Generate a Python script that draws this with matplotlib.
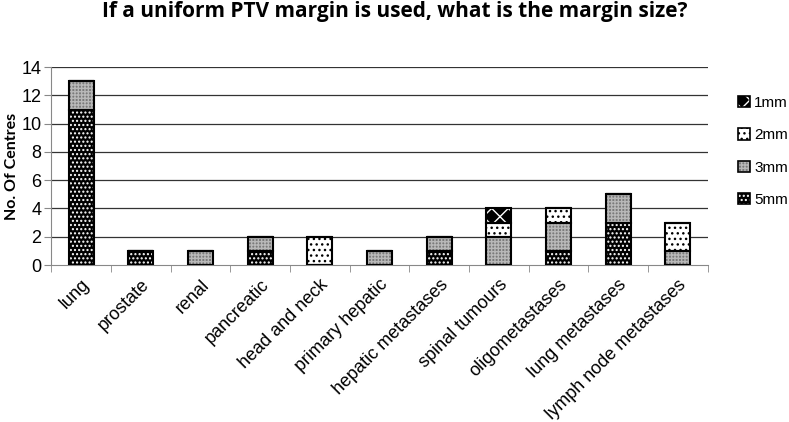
import numpy as np
import matplotlib as mpl
import matplotlib.pyplot as plt
from matplotlib.patches import Patch
from matplotlib.legend_handler import HandlerTuple

mpl.use('Agg')

sites = ['lung', 'prostate', 'renal', 'pancreatic', 'head and neck', 'primary hepatic',
         'hepatic metastases', 'spinal tumours', 'oligometastases', 'lung metastases',
         'lymph node metastases']
mm5 = [11, 1, 0, 1, 0, 0, 1, 0, 1, 3, 0]
mm3 = [2, 0, 1, 1, 0, 1, 1, 2, 2, 2, 1]
mm2 = [0, 0, 0, 0, 2, 0, 0, 1, 1, 0, 2]
mm1 = [0, 0, 0, 0, 0, 0, 0, 1, 0, 0, 0]

# label, values, face, hatch, hatch colour
series = [
    ('5mm', mm5, 'black', '....', 'white'),
    ('3mm', mm3, '#7a7a7a', '+++++', '#b8b8b8'),
    ('2mm', mm2, 'white', '...', 'black'),
    ('1mm', mm1, 'black', 'xx', 'white'),
]

plt.rcParams['font.family'] = ['Liberation Sans', 'DejaVu Sans']
plt.rcParams['hatch.linewidth'] = 1.0

fig = plt.figure(figsize=(7.89, 4.22), dpi=100)
ax = fig.add_axes([0.065, 0.372, 0.832, 0.469])

x = np.arange(len(sites))
bottom = np.zeros(len(sites))
handles = []
for label, vals, face, hatch, hcol in series:
    vals = np.array(vals, dtype=float)
    ax.bar(x, vals, 0.42, bottom=bottom, color=face, hatch=hatch, edgecolor=hcol,
           linewidth=0, zorder=3)
    ax.bar(x, vals, 0.42, bottom=bottom, fill=False, edgecolor='black',
           linewidth=1.5, zorder=4)
    handles.append((Patch(facecolor=face, hatch=hatch, edgecolor=hcol, linewidth=0),
                    Patch(fill=False, edgecolor='black', linewidth=1.2)))
    bottom += vals

ax.set_xlim(-0.5, len(sites) - 0.5)
ax.set_ylim(0, 14)
ax.set_yticks(range(0, 15, 2))
ax.tick_params(axis='y', labelsize=13, length=5, color='#888888', pad=2)
for y in range(2, 15, 2):
    ax.axhline(y, color='#333333', linewidth=0.9, zorder=1)

ax.set_xticks(x)
ax.set_xticklabels(sites, rotation=45, ha='right', rotation_mode='anchor', fontsize=13)
ax.set_xticks(np.arange(-0.5, len(sites), 1), minor=True)
ax.tick_params(axis='x', which='major', length=0, pad=8)
ax.tick_params(axis='x', which='minor', length=5, color='#888888')

for side in ['top', 'right']:
    ax.spines[side].set_visible(False)
ax.spines['left'].set_color('#888888')
ax.spines['bottom'].set_color('#888888')

ax.set_ylabel('No. Of Centres', fontsize=11.5, fontweight='bold', family='Lato', labelpad=2)
fig.suptitle('If a uniform PTV margin is used, what is the margin size?', x=0.5, y=0.997,
             fontsize=15, fontweight='bold', family='Open Sans')

leg = fig.legend(handles[::-1], [s[0] for s in series][::-1], loc='upper left',
                 bbox_to_anchor=(0.918, 0.805), frameon=False, fontsize=11,
                 handler_map={tuple: HandlerTuple(ndivide=1, pad=0)},
                 handlelength=0.75, handleheight=0.75, handletextpad=0.3, labelspacing=1.2)

plt.savefig('out.png', dpi=100)
